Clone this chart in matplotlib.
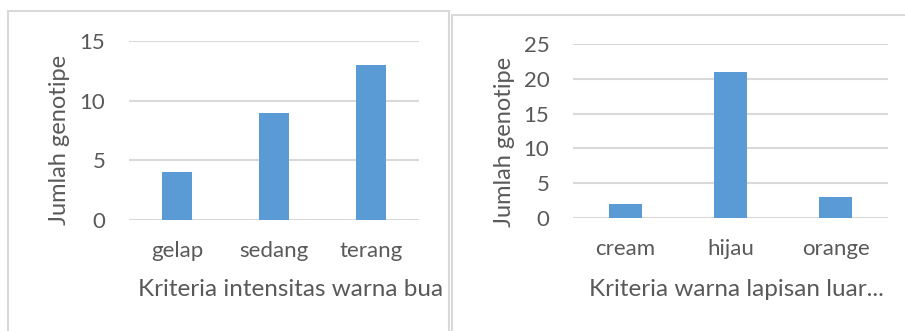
import matplotlib.pyplot as plt
from matplotlib.patches import Rectangle

# jumlah genotipe per kriteria
intensitas = ['gelap', 'sedang', 'terang']
n_intensitas = [4, 9, 13]
lapisan = ['cream', 'hijau', 'orange']
n_lapisan = [2, 21, 3]

W, H = 905, 331
bar_color = '#5B9BD5'
grid_color = '#D9D9D9'
text_color = '#595959'

plt.rcParams['font.family'] = ['Lato', 'DejaVu Sans']

fig = plt.figure(figsize=(W / 100, H / 100), dpi=100)
fig.patch.set_facecolor('white')

def px(x0, y0, x1, y1):
    # pixel box (top-left origin) -> figure fraction rect
    return [x0 / W, 1 - y1 / H, (x1 - x0) / W, (y1 - y0) / H]

# panel frames
for x0, y0, x1 in [(8, 11, 449), (452, 15, 910)]:
    fig.patches.append(Rectangle((x0 / W, -0.1), (x1 - x0) / W, 1 - y0 / H + 0.1,
                                 transform=fig.transFigure, fill=False,
                                 edgecolor=grid_color, linewidth=1.5))

def panel(rect, cats, vals, ymax, step, xlabel, label_x, ylab_pos):
    ax = fig.add_axes(rect)
    ax.bar(cats, vals, width=0.31, color=bar_color, zorder=3)
    ax.set_ylim(0, ymax)
    ax.set_xlim(-0.5, len(cats) - 0.5)
    ax.set_yticks(range(0, ymax + 1, step))
    ax.yaxis.grid(True, color=grid_color, linewidth=1.5, zorder=0)
    for s in ax.spines.values():
        s.set_visible(False)
    ax.tick_params(length=0, colors=text_color, labelsize=16)
    ax.tick_params(axis='x', pad=15)
    ax.tick_params(axis='y', pad=17)
    ax.set_ylabel('Jumlah genotipe', color=text_color, fontsize=17,
                  va='center')
    ax.yaxis.set_label_coords(*ylab_pos)
    fig.text(label_x / W, 1 - 290 / H, xlabel, color=text_color, fontsize=17.5,
             va='center', ha='left')
    return ax

panel(px(129, 41, 419, 220), intensitas, n_intensitas, 15, 5,
      'Kriteria intensitas warna bua', 138, (-0.238, 0.45))
panel(px(573, 44, 888, 218), lapisan, n_lapisan, 25, 5,
      'Kriteria warna lapisan luar...', 589, (-0.216, 0.44))

fig.savefig('out.png', dpi=100, facecolor='white')
